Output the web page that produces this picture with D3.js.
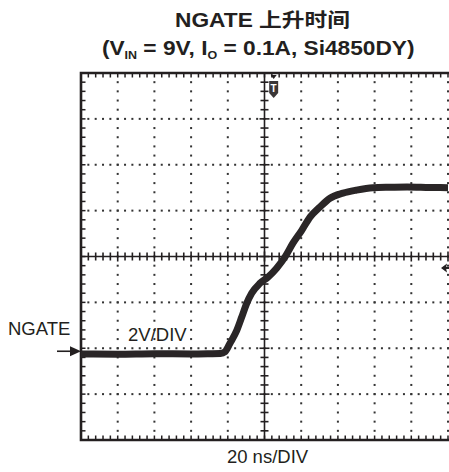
<!DOCTYPE html>
<html>
<head>
<meta charset="utf-8">
<script src="https://cdn.jsdelivr.net/npm/d3@7"></script>
<style>
  html, body { margin: 0; padding: 0; background: #fff; }
  svg { display: block; }
  text { font-family: "Liberation Sans", Arial, Helvetica, "Noto Sans CJK SC", sans-serif; fill: #231f20; }
</style>
</head>
<body>
<svg id="chart" width="449" height="472"></svg>
<script>
// NGATE rise waveform, 20 ns/div horizontally, 2 V/div vertically
const timeNs = [0, 20, 40, 60, 70, 76, 78.5, 81.2, 84.9, 87.6, 90.3, 93.0, 97.5, 101.9, 106.6, 111.2, 115.5, 120.3, 124.8, 130.2, 135.7, 142.8, 149.9, 159.1, 168, 177.7, 190, 200];
const gateV  = [-0.25, -0.26, -0.24, -0.25, -0.24, -0.23, -0.15, 0.22, 0.78, 1.36, 1.96, 2.40, 2.83, 3.10, 3.49, 3.98, 4.58, 5.14, 5.72, 6.16, 6.54, 6.76, 6.89, 7.00, 7.02, 7.03, 7.01, 7.00];

// Graticule definition: 10 x 8 divisions, 5 minor steps per division
const timeDomain = [0, 200];
const voltDomain = [-4, 12];
const timePerDiv = 20;
const voltPerDiv = 2;
const minorPerDiv = 5;

const titleLine1 = "NGATE 上升时间";
const channelLabel = "NGATE";
const voltLabel = "2V/DIV";
const timeLabel = "20 ns/DIV";

const svg = d3.select("#chart");
const ink = "#231f20";

const x = d3.scaleLinear().domain(timeDomain).range([81, 448]);
const y = d3.scaleLinear().domain(voltDomain).range([440, 73]);

const [x0, x1] = x.range();
const [yB, yT] = y.range();
const xEdge = 452; // screen extends past the visible right edge

const majorT = d3.range(timeDomain[0], timeDomain[1] + 0.001, timePerDiv);
const majorV = d3.range(voltDomain[0], voltDomain[1] + 0.001, voltPerDiv);
const minorT = d3.range(timeDomain[0], timeDomain[1] + 0.001, timePerDiv / minorPerDiv);
const minorV = d3.range(voltDomain[0], voltDomain[1] + 0.001, voltPerDiv / minorPerDiv);

const tCenter = (timeDomain[0] + timeDomain[1]) / 2;
const vCenter = (voltDomain[0] + voltDomain[1]) / 2;

const grid = svg.append("g");

// Dotted graticule: one dot at every minor step along each major line
majorT.slice(1).filter(t => t !== tCenter).forEach(t => {
  grid.selectAll(null).data(minorV.slice(1, -1)).enter().append("rect")
    .attr("x", x(t) - 1).attr("y", v => y(v) - 1)
    .attr("width", 2).attr("height", 2).attr("fill", "#333");
});
majorV.slice(1, -1).filter(v => v !== vCenter).forEach(v => {
  grid.selectAll(null).data(minorT.slice(1)).enter().append("rect")
    .attr("x", t => x(t) - 1).attr("y", y(v) - 1)
    .attr("width", 2).attr("height", 2).attr("fill", "#333");
});

// Center crosshair with minor ticks
grid.append("line").attr("x1", x(tCenter)).attr("x2", x(tCenter)).attr("y1", yT).attr("y2", yB)
  .attr("stroke", ink).attr("stroke-width", 1.6);
grid.append("line").attr("x1", x0).attr("x2", xEdge).attr("y1", y(vCenter)).attr("y2", y(vCenter))
  .attr("stroke", ink).attr("stroke-width", 1.6);
grid.selectAll(null).data(minorV.slice(1, -1)).enter().append("line")
  .attr("x1", v => x(tCenter) - (majorV.includes(v) ? 5 : 4))
  .attr("x2", v => x(tCenter) + (majorV.includes(v) ? 5 : 4))
  .attr("y1", v => y(v)).attr("y2", v => y(v))
  .attr("stroke", ink).attr("stroke-width", 1.6);
grid.selectAll(null).data(minorT.slice(1)).enter().append("line")
  .attr("x1", t => x(t)).attr("x2", t => x(t))
  .attr("y1", t => y(vCenter) - (majorT.includes(t) ? 5 : 4))
  .attr("y2", t => y(vCenter) + (majorT.includes(t) ? 5 : 4))
  .attr("stroke", ink).attr("stroke-width", 1.6);

// Border ticks pointing inward
grid.selectAll(null).data(minorT.slice(1)).enter().append("line")
  .attr("x1", t => x(t)).attr("x2", t => x(t))
  .attr("y1", yT).attr("y2", yT + 4.5)
  .attr("stroke", ink).attr("stroke-width", 1.5);
grid.selectAll(null).data(minorT.slice(1)).enter().append("line")
  .attr("x1", t => x(t)).attr("x2", t => x(t))
  .attr("y1", yB).attr("y2", yB - 4.5)
  .attr("stroke", ink).attr("stroke-width", 1.5);
grid.selectAll(null).data(minorV.slice(1, -1)).enter().append("line")
  .attr("x1", x0).attr("x2", x0 + 4.5)
  .attr("y1", v => y(v)).attr("y2", v => y(v))
  .attr("stroke", ink).attr("stroke-width", 1.5);

// Screen frame (top, left, bottom)
grid.append("path")
  .attr("d", `M${xEdge},${yT}H${x0}V${yB}H${xEdge}`)
  .attr("fill", "none").attr("stroke", ink).attr("stroke-width", 2.6);

// Waveform trace
const pts = timeNs.map((t, i) => [t, gateV[i]]);
const line = d3.line().x(d => x(d[0])).y(d => y(d[1])).curve(d3.curveMonotoneX);
svg.append("path").datum(pts)
  .attr("d", line)
  .attr("fill", "none").attr("stroke", "#2a2627").attr("stroke-width", 7)
  .attr("stroke-linejoin", "round");

// Trigger position marker at the top of the screen
const trigT = 105;
const tx = x(trigT);
svg.append("path")
  .attr("d", `M${tx - 3},${yT + 2}L${tx + 3},${yT + 2}L${tx},${yT + 6}Z`).attr("fill", ink);
svg.append("path")
  .attr("d", `M${tx - 4.5},${yT + 8}H${tx + 4.5}V${yT + 20}L${tx},${yT + 25}L${tx - 4.5},${yT + 20}Z`)
  .attr("fill", "#3a3637");
svg.append("text").attr("x", tx).attr("y", yT + 19).attr("text-anchor", "middle")
  .style("font-size", "10px").style("font-weight", "bold").style("fill", "#fff").text("T");

// Trigger level marker on the right edge
const trigV = 3.5;
const ty = y(trigV);
svg.append("path")
  .attr("d", `M${441},${ty}L${447},${ty - 4.5}L${446},${ty}L${447},${ty + 4.5}Z`).attr("fill", ink);
svg.append("line").attr("x1", 444).attr("x2", 449).attr("y1", ty).attr("y2", ty)
  .attr("stroke", ink).attr("stroke-width", 2);

// Channel ground arrow
const gy = y(0) + 3;
svg.append("line").attr("x1", 57).attr("x2", 71).attr("y1", gy).attr("y2", gy)
  .attr("stroke", ink).attr("stroke-width", 1.6);
svg.append("path").attr("d", `M${70},${gy - 5}L${x0},${gy}L${70},${gy + 5}Z`).attr("fill", ink);

// Labels
svg.append("text").attr("x", 8).attr("y", 335).style("font-size", "18.5px").text(channelLabel);
svg.append("text").attr("x", 128).attr("y", 341).style("font-size", "18.5px").text(voltLabel);
svg.append("text").attr("x", 267.5).attr("y", 463).attr("text-anchor", "middle")
  .style("font-size", "18.5px").text(timeLabel);

// Title, stretched to the printed widths
function fitText(sel, cx, width) {
  const w = sel.node().getComputedTextLength();
  const s = width / w;
  sel.attr("x", 0).attr("transform", `translate(${cx - width / 2},0) scale(${s},1)`);
}
const t1 = svg.append("text").attr("y", 27.5)
  .style("font-size", "19.5px").style("font-weight", "bold").text(titleLine1);
fitText(t1, 262.5, 175);

const t2 = svg.append("text").attr("y", 55)
  .style("font-size", "20px").style("font-weight", "bold");
t2.append("tspan").text("(V");
t2.append("tspan").attr("dy", 4).style("font-size", "11px").text("IN");
t2.append("tspan").attr("dy", -4).text(" = 9V, I");
t2.append("tspan").attr("dy", 4).style("font-size", "11px").text("O");
t2.append("tspan").attr("dy", -4).text(" = 0.1A, Si4850DY)");
fitText(t2, 258.4, 313);
</script>
</body>
</html>
